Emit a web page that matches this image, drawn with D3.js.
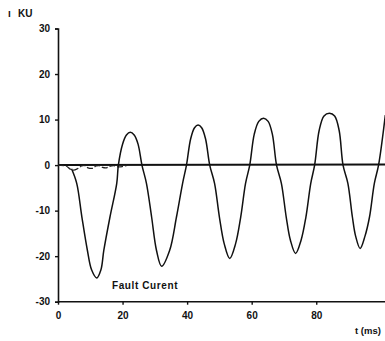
<!DOCTYPE html>
<html>
<head>
<meta charset="utf-8">
<script src="https://cdn.jsdelivr.net/npm/d3@7"></script>
<style>
  body { margin: 0; background: #fff; }
  svg { display: block; }
  text { font-family: "Liberation Sans", Arial, sans-serif; fill: #111; }
</style>
</head>
<body>
<div id="chart"></div>
<script>
// values (t in ms, i in kA)
const xTicks = [0, 20, 40, 60, 80];
const yTicks = [30, 20, 10, 0, -10, -20, -30];

// main fault current trace
const faultT = [4.2, 5.8, 7.4, 9.1, 10.4, 12, 13.3, 14.2, 16.1, 18.2, 18.7,
  20.0, 21.2, 22.4, 23.6, 24.8, 26, 27.4, 29, 30.5, 32.1, 34.6, 36.7, 38.6, 39.8,
  41.1, 42.3, 43.4, 44.5, 45.7, 47, 48.5, 50, 51.5, 53.2, 55, 56.6, 58.1, 59.4,
  60.8, 62.2, 63.7, 65.1, 66.4, 67.7, 69.2, 70.7, 72, 73.6, 75.3, 76.8, 78.3, 79.5,
  80.9, 82.4, 84.1, 85.7, 87.1, 88.3, 89.8, 91.2, 92.2, 93.6, 95.1, 96.5, 98, 99.3, 101.4];
const faultI = [-0.8, -4, -11.4, -18.7, -23, -24.8, -23, -18.7, -11.4, -4, 0,
  4.6, 6.6, 7.2, 6.6, 4.6, 0, -4, -11.4, -18.7, -22.2, -18.7, -11.4, -4, 0,
  5.8, 8.2, 8.8, 8.2, 5.8, 0, -4, -11.4, -17.3, -20.5, -17.3, -11.4, -4, 0,
  6.8, 9.6, 10.3, 9.6, 6.8, 0, -4, -11.4, -16.5, -19.4, -16.5, -11.4, -4, 0,
  7.6, 10.8, 11.4, 10.8, 7.6, 0, -4, -11.4, -15.6, -18.3, -15.6, -11.4, -4, 0, 11];

// small trace oscillating just under the zero line
const smallT = [0, 2.5, 3.8, 4.8, 6, 7.3, 8.3, 9.3, 10.6, 11.8, 12.8, 13.8, 15, 16.2, 17.3, 18.6, 20, 21.5];
const smallI = [0, -0.2, -0.9, -1.1, -0.8, -0.2, -0.1, -0.6, -0.7, -0.2, -0.1, -0.5, -0.6, -0.2, -0.1, -0.4, -0.3, 0];

const width = 385, height = 341;
const x = d3.scaleLinear().domain([0, 101.3]).range([58, 385]);
const y = d3.scaleLinear().domain([-30, 30]).range([301.7, 28.5]);

const svg = d3.select('#chart').append('svg')
  .attr('width', width)
  .attr('height', height);

svg.append('defs').append('clipPath').attr('id', 'plot')
  .append('rect').attr('x', 58).attr('y', 0).attr('width', 327).attr('height', 310);

// y axis
const yAxis = svg.append('g')
  .attr('transform', `translate(${x(0)},0)`)
  .call(d3.axisLeft(y).tickValues(yTicks).tickSize(3).tickPadding(5).tickFormat(d3.format('d')));
yAxis.select('.domain').attr('stroke', '#111').attr('stroke-width', 1.6);
yAxis.selectAll('.tick line').attr('stroke', '#111').attr('stroke-width', 1.4);
yAxis.selectAll('.tick text')
  .style('font-size', '10px').style('font-weight', 'bold')
  .text(d => d < 0 ? '-' + Math.abs(d) : d);

// x axis
const xAxis = svg.append('g')
  .attr('transform', `translate(0,${y(-30)})`)
  .call(d3.axisBottom(x).tickValues(xTicks).tickSize(3).tickPadding(7));
xAxis.select('.domain').attr('stroke', '#111').attr('stroke-width', 1.6)
  .attr('d', `M${x(0)},0H${width}`);
xAxis.selectAll('.tick line').attr('stroke', '#111').attr('stroke-width', 1.4);
xAxis.selectAll('.tick text').style('font-size', '10px').style('font-weight', 'bold');

// zero line
svg.append('line')
  .attr('x1', x(0)).attr('x2', width)
  .attr('y1', y(0)).attr('y2', y(0) - 0.6)
  .attr('stroke', '#111').attr('stroke-width', 2);

const plot = svg.append('g').attr('clip-path', 'url(#plot)');

const line = d3.line()
  .x(d => x(d[0]))
  .y(d => y(d[1]))
  .curve(d3.curveCatmullRom);

plot.append('path')
  .datum(smallT.map((t, i) => [t, smallI[i]]))
  .attr('d', line)
  .attr('fill', 'none')
  .attr('stroke', '#222')
  .attr('stroke-width', 1.3)
  .attr('stroke-dasharray', '6,2');

plot.append('path')
  .datum(faultT.map((t, i) => [t, faultI[i]]))
  .attr('d', line)
  .attr('fill', 'none')
  .attr('stroke', '#111')
  .attr('stroke-width', 1.5);

// labels
svg.append('text')
  .attr('x', 112).attr('y', 289)
  .style('font-size', '10px').style('font-weight', 'bold')
  .style('letter-spacing', '0.6px')
  .text('Fault Curent');

svg.append('text')
  .attr('x', 8).attr('y', 17)
  .style('font-size', '10px').style('font-weight', 'bold')
  .text('ı');
svg.append('text')
  .attr('x', 18).attr('y', 17)
  .style('font-size', '10px').style('font-weight', 'bold')
  .text('KU');

svg.append('text')
  .attr('x', 355).attr('y', 334)
  .style('font-size', '9.5px').style('font-weight', 'bold')
  .text('t (ms)');
</script>
</body>
</html>
